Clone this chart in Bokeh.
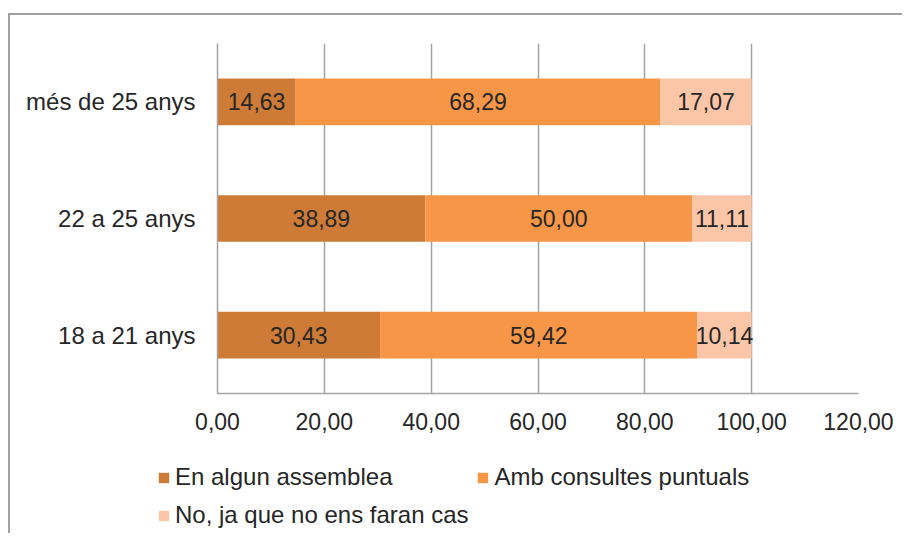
from bokeh.plotting import figure
from bokeh.layouts import column
from bokeh.models import (FactorRange, Range1d, FixedTicker, CustomJSTickFormatter,
                          Legend, LegendItem, ColumnDataSource, InlineStyleSheet)
from bokeh.core.properties import value
from bokeh.embed import file_html
from bokeh.resources import INLINE

categories = ["18 a 21 anys", "22 a 25 anys", "més de 25 anys"]
series_names = ["En algun assemblea", "Amb consultes puntuals", "No, ja que no ens faran cas"]
assemblea = [30.43, 38.89, 14.63]
consultes = [59.42, 50.00, 68.29]
no_cas = [10.14, 11.11, 17.07]
x_ticks = [0, 20, 40, 60, 80, 100, 120]
colors = ["#CD7B37", "#F79646", "#FBC5A7"]

FONT = "Liberation Sans"
FS_NUM = "23px"
FS_TXT = "24px"
TXT = "#262626"
GRID = "#A3A3A3"

series = [assemblea, consultes, no_cas]
data = {"cat": categories}
for name, vals in zip(series_names, series):
    data[name] = vals
src = ColumnDataSource(data)

top_css = InlineStyleSheet(css="""
:host { position: relative; }
:host::after {
  content: ''; position: absolute;
  left: 8px; top: 13px; right: 0; bottom: 0;
  border-top: 2px solid #A0A0A0; border-left: 2px solid #A0A0A0;
  pointer-events: none;
}
""")
side_css = InlineStyleSheet(css="""
:host { position: relative; }
:host::after {
  content: ''; position: absolute;
  left: 8px; top: 0; width: 0; bottom: 0;
  border-left: 2px solid #A0A0A0;
  pointer-events: none;
}
""")

p = figure(y_range=FactorRange(factors=categories), x_range=Range1d(0, 120),
           width=902, height=455, output_backend="svg", toolbar_location=None,
           min_border_left=217, min_border_right=44, min_border_top=43, min_border_bottom=62)
p.outline_line_color = None
p.frame_align = False
p.stylesheets = [top_css]

rends = p.hbar_stack(series_names, y="cat", height=0.4, color=colors, source=src, line_color=None)

# data labels
lx, ly, lt = [], [], []
for i, cat in enumerate(categories):
    start = 0.0
    for vals in series:
        v = vals[i]
        lx.append(start + v / 2)
        ly.append(cat)
        lt.append(f"{v:.2f}".replace(".", ","))
        start += v
p.text(x=lx, y=ly, text=lt, text_align="center", text_baseline="middle",
       text_font=value(FONT), text_font_size=FS_NUM, text_color=TXT)

# axes
p.xaxis.ticker = FixedTicker(ticks=x_ticks)
p.xaxis.formatter = CustomJSTickFormatter(code="return tick.toFixed(2).replace('.', ',');")
p.xgrid.ticker = FixedTicker(ticks=x_ticks)
p.xgrid.grid_line_color = GRID
p.xgrid.grid_line_width = 1.5
p.ygrid.grid_line_color = None
for ax in (p.xaxis, p.yaxis):
    ax.axis_line_color = GRID
    ax.axis_line_width = 1.5
    ax.major_tick_line_color = None
    ax.minor_tick_line_color = None
    ax.major_tick_out = 0
    ax.major_tick_in = 0
    ax.major_label_text_font = FONT
    ax.major_label_text_color = TXT
p.xaxis.major_label_text_font_size = FS_NUM
p.yaxis.major_label_text_font_size = FS_TXT
p.xaxis.major_label_standoff = 19
p.yaxis.major_label_standoff = 22

# legend strip
q = figure(width=902, height=78, output_backend="svg", toolbar_location=None,
           x_axis_location=None, y_axis_location=None,
           x_range=Range1d(0, 1), y_range=Range1d(0, 1),
           min_border_left=0, min_border_right=0, min_border_top=0, min_border_bottom=0)
q.outline_line_color = None
q.grid.grid_line_color = None
q.background_fill_color = None
q.border_fill_color = None
q.frame_align = False
q.stylesheets = [side_css]
# key glyphs kept outside the visible range: only their legend swatches show
keys = [q.hbar(y=[-5], left=[-5], right=[-4], height=0.5, color=c, line_color=None)
        for c in colors]

common = dict(border_line_color=None, background_fill_alpha=0, padding=0, margin=0,
              glyph_width=13, glyph_height=13, label_standoff=5, label_height=27,
              label_text_font=FONT, label_text_font_size=FS_TXT, label_text_color=TXT)
leg1 = Legend(items=[LegendItem(label=series_names[0], renderers=[keys[0]]),
                     LegendItem(label=series_names[1], renderers=[keys[1]])],
              orientation="horizontal", spacing=84, location=(157, 42), **common)
leg2 = Legend(items=[LegendItem(label=series_names[2], renderers=[keys[2]])],
              orientation="horizontal", location=(157, 4), **common)
q.add_layout(leg1)
q.add_layout(leg2)

layout = column(p, q, spacing=0)

open("out.html", "w").write(file_html(layout, INLINE))
